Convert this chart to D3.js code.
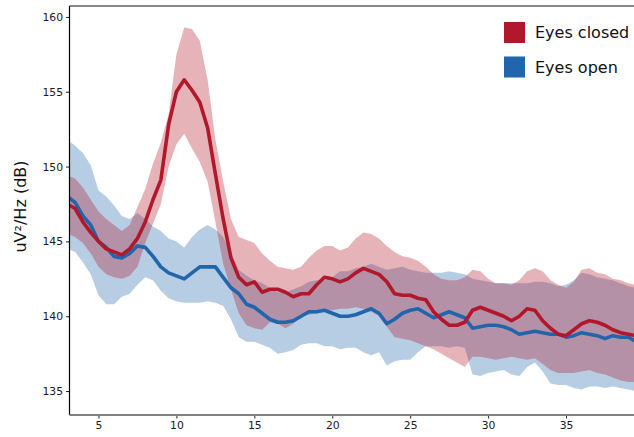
<!DOCTYPE html>
<html>
<head>
<meta charset="utf-8">
<script src="https://cdn.jsdelivr.net/npm/d3@7"></script>
<style>
  html, body { margin: 0; padding: 0; background: #fff; }
  svg { display: block; font-family: "DejaVu Sans", sans-serif; }
</style>
</head>
<body>
<svg id="chart" width="634" height="437"></svg>
<script>
// ---------- data ----------
const freqs = [3.0,3.5,4.0,4.5,5.0,5.5,6.0,6.5,7.0,7.5,8.0,8.5,9.0,9.5,10.0,10.5,11.0,11.5,12.0,12.5,13.0,13.5,14.0,14.5,15.0,15.5,16.0,16.5,17.0,17.5,18.0,18.5,19.0,19.5,20.0,20.5,21.0,21.5,22.0,22.5,23.0,23.5,24.0,24.5,25.0,25.5,26.0,26.5,27.0,27.5,28.0,28.5,29.0,29.5,30.0,30.5,31.0,31.5,32.0,32.5,33.0,33.5,34.0,34.5,35.0,35.5,36.0,36.5,37.0,37.5,38.0,38.5,39.0,39.5];

const closedMean = [147.5,147.2,146.3,145.6,145.0,144.5,144.3,144.1,144.5,145.2,146.3,147.8,149.1,152.8,155.0,155.8,155.1,154.3,152.6,149.5,146.5,143.9,142.6,142.1,142.3,141.6,141.8,141.8,141.6,141.3,141.5,141.5,142.1,142.6,142.5,142.3,142.5,142.9,143.2,143.0,142.8,142.3,141.5,141.4,141.4,141.2,141.1,140.3,139.8,139.4,139.4,139.6,140.4,140.6,140.4,140.2,140.0,139.7,140.0,140.5,140.4,139.7,139.2,138.8,138.7,139.1,139.5,139.7,139.6,139.4,139.1,138.9,138.8,138.7];
const closedUpper = [149.4,149.2,148.6,147.8,147.0,146.5,146.1,145.7,146.1,147.3,148.5,150.2,151.6,153.5,157.5,159.3,159.2,158.4,155.8,151.8,149.0,146.5,145.3,145.1,144.9,144.2,143.7,143.3,143.2,143.1,143.3,143.9,144.4,144.7,144.7,144.4,144.6,145.2,145.6,145.5,145.2,144.7,144.3,144.0,143.9,143.7,143.3,142.8,142.5,142.4,142.4,142.6,143.1,143.0,142.5,142.2,142.2,142.1,142.4,143.0,143.2,143.0,142.4,142.1,141.9,142.3,143.1,143.2,142.9,142.8,142.5,142.4,142.2,142.1];
const closedLower = [145.5,145.3,144.9,144.2,143.3,142.8,142.6,142.5,142.7,143.3,144.9,146.2,147.5,150.0,151.5,152.2,151.2,150.3,149.0,146.3,143.5,141.8,140.2,139.4,139.2,139.1,139.6,139.5,139.2,139.5,140.0,140.1,140.2,140.4,140.4,140.5,140.5,140.6,140.5,140.3,140.0,139.3,138.6,138.5,138.4,138.2,138.0,137.8,137.5,137.2,136.9,136.6,137.3,137.3,137.2,137.1,137.2,137.3,137.2,137.1,137.2,136.8,136.4,136.2,136.2,136.2,136.3,136.4,136.2,136.1,135.9,135.7,135.6,135.6];

const openMean = [148.0,147.6,146.7,146.1,145.0,144.6,144.0,143.9,144.2,144.7,144.6,144.0,143.3,142.9,142.7,142.5,142.9,143.3,143.3,143.3,142.6,141.9,141.5,140.8,140.6,140.2,139.8,139.6,139.6,139.7,140.0,140.3,140.3,140.4,140.2,140.0,140.0,140.1,140.3,140.5,140.2,139.5,139.8,140.2,140.4,140.5,140.2,139.9,140.1,140.3,140.1,139.9,139.2,139.3,139.4,139.4,139.3,139.1,138.8,138.9,139.0,138.9,138.8,138.8,138.6,138.7,138.9,138.8,138.7,138.5,138.7,138.6,138.6,138.3];
const openUpper = [151.8,151.4,150.9,150.1,148.4,148.0,147.4,146.7,146.5,146.9,146.5,146.0,145.7,145.2,145.0,144.6,145.3,145.8,146.1,145.8,145.3,144.2,143.1,142.7,142.4,142.2,141.9,141.6,141.6,141.8,142.0,142.3,142.4,142.4,142.6,143.0,143.0,143.2,143.3,143.5,143.3,143.1,143.2,143.3,143.1,143.0,142.9,142.9,142.9,143.0,142.9,142.8,142.5,142.4,142.3,142.2,142.2,142.2,142.2,142.2,142.3,142.3,142.2,142.0,142.1,142.4,142.9,142.8,142.6,142.5,142.4,142.2,142.0,141.9];
const openLower = [144.5,144.3,143.6,142.8,141.4,140.8,140.8,141.3,141.5,142.1,142.6,142.4,141.7,141.2,141.0,140.9,140.9,140.9,141.0,140.9,140.7,139.8,138.6,138.3,138.3,138.1,137.9,137.5,137.6,137.75,138.1,138.2,138.2,138.0,138.0,137.8,137.9,137.9,137.6,137.4,137.6,136.7,137.0,137.1,137.1,137.6,138.0,138.0,138.0,137.9,138.0,137.9,136.1,136.0,136.2,136.3,136.4,136.1,136.0,136.6,136.9,136.3,135.5,135.4,135.4,135.2,135.1,135.3,135.3,135.2,135.3,135.2,135.1,135.0];

const xTicks = [5,10,15,20,25,30,35];
const yTicks = [135,140,145,150,155,160];
const seriesNames = ["Eyes closed","Eyes open"];
const seriesColors = ["#b2182b","#2166ac"];

// ---------- layout ----------
const svg = d3.select("#chart");
const mLeft = 69.5, mRight = 634, mTop = 6, mBottom = 415;

const x = d3.scaleLinear().domain([3.14, 39.36]).range([mLeft, mRight]);
const y = d3.scaleLinear().domain([133.4, 160.73]).range([mBottom, mTop]);

svg.append("defs").append("clipPath").attr("id","plotclip")
  .append("rect").attr("x", mLeft).attr("y", mTop).attr("width", mRight-mLeft).attr("height", mBottom-mTop);

const plot = svg.append("g").attr("clip-path","url(#plotclip)");

const series = [
  {name: seriesNames[0], color: seriesColors[0], mean: closedMean, up: closedUpper, lo: closedLower},
  {name: seriesNames[1], color: seriesColors[1], mean: openMean, up: openUpper, lo: openLower}
];

const area = d3.area()
  .x((d,i) => x(freqs[i]))
  .y0(d => y(d[0]))
  .y1(d => y(d[1]));
const line = d3.line()
  .x((d,i) => x(freqs[i]))
  .y(d => y(d));

// bands: open first, closed on top (gives the reddish overlap)
[series[1], series[0]].forEach(s => {
  plot.append("path")
    .datum(s.lo.map((v,i) => [v, s.up[i]]))
    .attr("d", area)
    .attr("fill", s.color)
    .attr("fill-opacity", 0.33)
    .attr("stroke", "none");
});
[series[1], series[0]].forEach(s => {
  plot.append("path")
    .datum(s.mean)
    .attr("d", line)
    .attr("fill", "none")
    .attr("stroke", s.color)
    .attr("stroke-width", 3.6)
    .attr("stroke-linejoin", "round");
});

// ---------- axes ----------
const xAxis = svg.append("g")
  .attr("transform", `translate(0,${mBottom})`)
  .call(d3.axisBottom(x).tickValues(xTicks).tickSize(3.5).tickPadding(3).tickFormat(d3.format("d")));
xAxis.select(".domain").remove();
xAxis.selectAll("text").attr("font-size", "10.8px").attr("fill", "#1a1a1a").attr("font-family", "DejaVu Sans");
xAxis.selectAll("line").attr("stroke", "#222");

const yAxis = svg.append("g")
  .attr("transform", `translate(${mLeft},0)`)
  .call(d3.axisLeft(y).tickValues(yTicks).tickSize(3.5).tickPadding(3).tickFormat(d3.format("d")));
yAxis.select(".domain").remove();
yAxis.selectAll("text").attr("font-size", "10.8px").attr("fill", "#1a1a1a").attr("font-family", "DejaVu Sans");
yAxis.selectAll("line").attr("stroke", "#222");

// spines
svg.append("line").attr("x1", mLeft).attr("x2", mLeft).attr("y1", mTop).attr("y2", mBottom)
  .attr("stroke", "#000").attr("stroke-width", 1.2);
svg.append("line").attr("x1", mLeft).attr("x2", mRight).attr("y1", mTop).attr("y2", mTop)
  .attr("stroke", "#111").attr("stroke-width", 1.2);
svg.append("line").attr("x1", mLeft).attr("x2", mRight).attr("y1", mBottom).attr("y2", mBottom)
  .attr("stroke", "#808080").attr("stroke-width", 2);

// y label
svg.append("text")
  .attr("transform", `translate(26,${(mTop+mBottom)/2 - 4}) rotate(-90)`)
  .attr("text-anchor", "middle")
  .attr("font-size", "16px")
  .attr("fill", "#111")
  .text("uV\u00B2/Hz (dB)");

// legend
const legend = svg.append("g");
series.forEach((s, i) => {
  const g = legend.append("g").attr("transform", `translate(504,${22 + i*34.5})`);
  g.append("rect").attr("width", 21).attr("height", 21).attr("fill", s.color);
  g.append("text").attr("x", 31).attr("y", 10.5).attr("dy", "0.36em")
    .attr("font-size", "16px").attr("fill", "#111").text(s.name);
});
</script>
</body>
</html>
